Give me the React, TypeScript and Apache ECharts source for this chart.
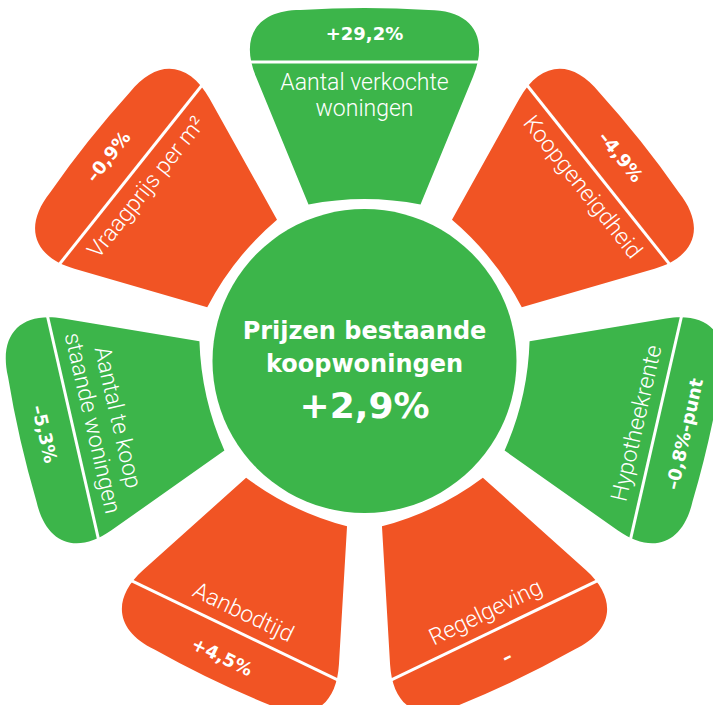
import React, { useEffect, useRef } from "react";
import * as echarts from "echarts";

// ---- data ----
const petalLabels: string[] = [
  "Aantal verkochte\nwoningen",
  "Koopgeneigdheid",
  "Hypotheekrente",
  "Regelgeving",
  "Aanbodtijd",
  "Aantal te koop\nstaande woningen",
  "Vraagprijs per m²",
];
const petalValues: (number | null)[] = [29.2, -4.9, -0.8, null, 4.5, -5.3, -0.9];
const petalUnits: string[] = ["%", "%", "%-punt", "", "%", "%", "%"];
const petalTones: string[] = ["positive", "negative", "positive", "negative", "negative", "positive", "negative"];
const centerTitle: string[] = ["Prijzen bestaande", "koopwoningen"];
const centerValue = 2.9;
const centerUnit = "%";

// ---- styles / geometry ----
const W = 713;
const H = 705;
const CX = 364.5;
const CY = 361;
const GREEN = "#3cb54a";
const ORANGE = "#f15424";
const TONE_COLORS: Record<string, string> = { positive: GREEN, negative: ORANGE };
const CIRCLE_R = 152;
const R_IN = 156.5;
const R_IN_CTRL = 167.5;
const HW_IN = 56;
const R_OUT = 351;
const HW_OUT = 136;
const CORNER_D = 72;
const K = 0.6;
const DIV_R = 299;
const VALUE_R = 328;
const LABEL_R = 279;
const LABEL_LH = 26;

function fmt(v: number | null, unit: string): string {
  if (v === null || v === undefined) return "–";
  const sign = v > 0 ? "+" : "–";
  return sign + Math.abs(v).toFixed(1).replace(".", ",") + unit;
}

function buildPetalPath(): string {
  const ix = HW_IN, iy = -R_IN;
  const vx = HW_OUT, vy = -R_OUT;
  const sx = vx - ix, sy = vy - iy;
  const len = Math.hypot(sx, sy);
  const ux = sx / len, uy = sy / len;
  const S = [vx - ux * CORNER_D, vy - uy * CORNER_D];
  const T = [vx - CORNER_D, vy];
  const C1 = [S[0] + K * (vx - S[0]), S[1] + K * (vy - S[1])];
  const C2 = [T[0] + K * (vx - T[0]), T[1]];
  const f = (n: number) => n.toFixed(2);
  return [
    `M ${f(-ix)} ${f(iy)}`,
    `L ${f(-S[0])} ${f(S[1])}`,
    `C ${f(-C1[0])} ${f(C1[1])} ${f(-C2[0])} ${f(C2[1])} ${f(-T[0])} ${f(T[1])}`,
    `Q 0 ${f(-R_OUT - 4)} ${f(T[0])} ${f(T[1])}`,
    `C ${f(C2[0])} ${f(C2[1])} ${f(C1[0])} ${f(C1[1])} ${f(S[0])} ${f(S[1])}`,
    `L ${f(ix)} ${f(iy)}`,
    `Q 0 ${f(-R_IN_CTRL)} ${f(-ix)} ${f(iy)}`,
    "Z",
  ].join(" ");
}

const centerTextStyle = {
  fill: "#ffffff",
  fontFamily: "DejaVu Sans",
  fontWeight: "bold",
  fontSize: 24,
  align: "center",
  verticalAlign: "middle",
  textAlign: "center",
  textVerticalAlign: "middle",
};

export default function App() {
  const ref = useRef<HTMLDivElement>(null);
  useEffect(() => {
    if (!ref.current) return;
    const chart = echarts.init(ref.current, null, { renderer: "svg" });
    const n = petalLabels.length;
    const petalPath = buildPetalPath();
    chart.setOption({
      animation: false,
      backgroundColor: "#ffffff",
      series: [
        {
          type: "custom",
          coordinateSystem: "none",
          silent: true,
          data: petalLabels.map((l, i) => ({ name: l, value: [i, petalValues[i] === null ? 0 : petalValues[i]] })),
          renderItem: (params: any) => {
            const i = params.dataIndex;
            const theta = (i * 2 * Math.PI) / n;
            const flip = Math.cos(theta) < -1e-6;
            const rot = flip ? Math.PI : 0;
            const lines = petalLabels[i].split("\n").length;
            const color = TONE_COLORS[petalTones[i]];
            return {
              type: "group",
              x: CX,
              y: CY,
              rotation: -theta,
              children: [
                { type: "path", shape: { pathData: petalPath }, style: { fill: color } },
                {
                  type: "line",
                  shape: { x1: -124, y1: -DIV_R, x2: 124, y2: -DIV_R },
                  style: { stroke: "#ffffff", lineWidth: 3 },
                },
                {
                  type: "text",
                  x: 0,
                  y: -VALUE_R,
                  rotation: rot,
                  style: {
                    text: fmt(petalValues[i], petalUnits[i]),
                    fill: "#ffffff",
                    fontFamily: "DejaVu Sans",
                    fontWeight: "bold",
                    fontSize: 18,
                    align: "center",
                    verticalAlign: "middle",
                    textAlign: "center",
                    textVerticalAlign: "middle",
                  },
                },
                {
                  type: "text",
                  x: 0,
                  y: -(LABEL_R - ((lines - 1) * LABEL_LH) / 2),
                  rotation: rot,
                  style: {
                    text: petalLabels[i],
                    fill: "#ffffff",
                    fontFamily: "Roboto",
                    fontWeight: 300,
                    fontSize: 23,
                    lineHeight: LABEL_LH,
                    align: "center",
                    verticalAlign: "middle",
                    textAlign: "center",
                    textVerticalAlign: "middle",
                  },
                },
              ],
            };
          },
        },
      ],
      graphic: [
        { type: "circle", shape: { cx: CX, cy: CY, r: CIRCLE_R }, style: { fill: GREEN } },
        { type: "text", x: CX, y: 331, style: { ...centerTextStyle, text: centerTitle[0] } },
        { type: "text", x: CX, y: 364, style: { ...centerTextStyle, text: centerTitle[1] } },
        {
          type: "text",
          x: CX,
          y: 405,
          style: {
            ...centerTextStyle,
            text: fmt(centerValue, centerUnit),
            fontSize: 36,
          },
        },
      ],
    });
    return () => chart.dispose();
  }, []);
  return (
    <div
      ref={ref}
      style={{ position: "fixed", left: 0, top: 0, width: W, height: H, background: "#ffffff" }}
    />
  );
}
